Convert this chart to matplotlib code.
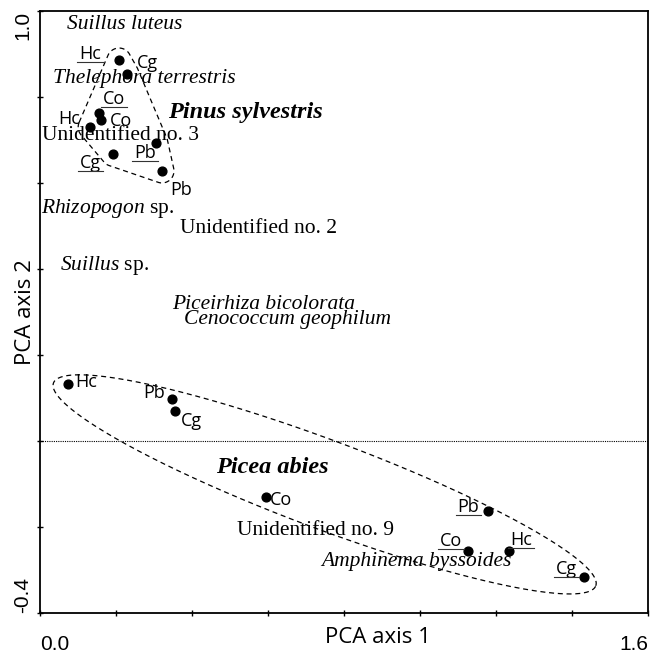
import matplotlib
matplotlib.use('Agg')
import matplotlib.pyplot as plt
import numpy as np
from matplotlib.lines import Line2D

plt.rcParams['mathtext.fontset'] = 'custom'
plt.rcParams['mathtext.it'] = 'Liberation Serif:italic'
plt.rcParams['mathtext.rm'] = 'Liberation Serif'

# sample plots under Pinus sylvestris
pinus_site = ['Hc', 'Cg', 'Co', 'Co', 'Hc', 'Cg', 'Pb', 'Pb']
pinus_x = [0.208, 0.229, 0.155, 0.161, 0.132, 0.192, 0.305, 0.321]
pinus_y = [0.886, 0.853, 0.763, 0.747, 0.730, 0.667, 0.693, 0.628]
pinus_under = [True, False, True, False, False, True, True, False]

# sample plots under Picea abies
picea_site = ['Hc', 'Pb', 'Cg', 'Co', 'Pb', 'Co', 'Hc', 'Cg']
picea_x = [0.074, 0.347, 0.355, 0.595, 1.179, 1.126, 1.234, 1.432]
picea_y = [0.133, 0.098, 0.070, -0.130, -0.163, -0.256, -0.256, -0.316]
picea_under = [False, False, False, False, True, True, True, True]

# fungal species
species = ['Suillus luteus', 'Thelephora terrestris', 'Unidentified no. 3',
           r'$\mathit{Rhizopogon}$ sp.', 'Unidentified no. 2', r'$\mathit{Suillus}$ sp.',
           'Piceirhiza bicolorata', 'Cenococcum geophilum', 'Unidentified no. 9',
           'Amphinema byssoides']
species_x = [0.071, 0.034, 0.005, 0.003, 0.368, 0.053, 0.347, 0.379, 0.518, 0.739]
species_y = [0.958, 0.833, 0.700, 0.530, 0.484, 0.398, 0.307, 0.272, -0.219, -0.291]

hosts = ['Pinus sylvestris', 'Picea abies']
hosts_x = [0.337, 0.463]
hosts_y = [0.751, -0.074]

# label offsets (points) for the site labels
pinus_off = [(-21, 4), (15, 8), (11, 10), (14, -1), (-15, 6), (-16, -6), (-8, -7), (14, -14)]
picea_off = [(13, 1), (-13, 4), (12, -7), (11, -2), (-14, 3), (-12, 7), (9, 8), (-13, 6)]
species_style = ['italic', 'italic', 'normal', 'normal', 'normal', 'normal',
                 'italic', 'italic', 'normal', 'italic']

fig = plt.figure(figsize=(6.6, 6.57), dpi=100)
ax = fig.add_axes([40 / 660, 1 - 613 / 657, 608 / 660, 602 / 657])
ax.set_xlim(0, 1.6)
ax.set_ylim(-0.4, 1.0)

for s in ax.spines.values():
    s.set_linewidth(1.3)

ax.set_xticks(np.arange(0, 1.61, 0.2))
ax.set_yticks(np.arange(-0.4, 1.01, 0.2))
ax.set_xticklabels(['0.0'] + [''] * 7 + ['1.6'], family='Liberation Sans', fontsize=15)
ax.set_yticklabels(['-0.4'] + [''] * 6 + ['1.0'], family='Liberation Sans', fontsize=15,
                   rotation=90)
ax.tick_params(direction='inout', length=5, width=1)
ax.tick_params(axis='x', pad=13)
ax.tick_params(axis='y', pad=3)
xl = ax.get_xticklabels()
xl[0].set_ha('left')
xl[-1].set_ha('right')
yl = ax.get_yticklabels()
yl[0].set_va('bottom')
yl[-1].set_va('top')

ax.set_xlabel('PCA axis 1', family='Open Sans', fontsize=16)
ax.xaxis.set_label_coords(0.556, -0.024)
ax.set_ylabel('PCA axis 2', family='Open Sans', fontsize=16)
ax.yaxis.set_label_coords(-0.006, 0.5)

ax.axhline(0, color='black', lw=0.8, linestyle=(0, (1, 1)))

dash = dict(color='black', lw=0.9, linestyle=(0, (4, 3)))


def to_data(p):
    p = ax.transData.inverted().transform(p)
    return p[:, 0], p[:, 1]


def ellipse_env(xs, ys, pad_major=14, pad_minor=12):
    # enclosing ellipse along the line between the two farthest points (display space)
    pts = ax.transData.transform(np.column_stack([xs, ys]))
    d = np.linalg.norm(pts[:, None, :] - pts[None, :, :], axis=2)
    i, j = np.unravel_index(d.argmax(), d.shape)
    u1 = (pts[j] - pts[i]) / d[i, j]
    u2 = np.array([-u1[1], u1[0]])
    c = pts.mean(axis=0)
    p1 = (pts - c) @ u1
    p2 = (pts - c) @ u2
    c = c + u1 * (p1.max() + p1.min()) / 2 + u2 * (p2.max() + p2.min()) / 2
    a = (p1.max() - p1.min()) / 2 + pad_major
    b = (p2.max() - p2.min()) / 2 + pad_minor
    t = np.linspace(0, 2 * np.pi, 300)
    ell = c + np.outer(a * np.cos(t), u1) + np.outer(b * np.sin(t), u2)
    ax.plot(*to_data(ell), **dash)


def hull_env(xs, ys, pad=12):
    # convex hull of the points, grown by a rounded margin (display space)
    pts = sorted(map(tuple, ax.transData.transform(np.column_stack([xs, ys]))))

    def cross(o, a, b):
        return (a[0] - o[0]) * (b[1] - o[1]) - (a[1] - o[1]) * (b[0] - o[0])

    lower, upper = [], []
    for p in pts:
        while len(lower) >= 2 and cross(lower[-2], lower[-1], p) <= 0:
            lower.pop()
        lower.append(p)
    for p in reversed(pts):
        while len(upper) >= 2 and cross(upper[-2], upper[-1], p) <= 0:
            upper.pop()
        upper.append(p)
    hull = np.array(lower[:-1] + upper[:-1])  # counter-clockwise
    n = len(hull)
    out = []
    for k in range(n):
        prev, cur, nxt = hull[k - 1], hull[k], hull[(k + 1) % n]
        e_in = cur - prev
        e_out = nxt - cur
        a0 = np.arctan2(e_in[1], e_in[0]) - np.pi / 2
        a1 = np.arctan2(e_out[1], e_out[0]) - np.pi / 2
        if a1 < a0:
            a1 += 2 * np.pi
        ang = np.linspace(a0, a1, 30)
        out.append(cur + pad * np.column_stack([np.cos(ang), np.sin(ang)]))
    out = np.vstack(out + [out[0][:1]])
    ax.plot(*to_data(out), **dash)


hull_env(pinus_x, pinus_y)
ellipse_env(picea_x, picea_y)

ax.scatter(pinus_x + picea_x, pinus_y + picea_y, s=40, color='black', zorder=3)

site_texts = []
for names, xs, ys, offs, und in [(pinus_site, pinus_x, pinus_y, pinus_off, pinus_under),
                                  (picea_site, picea_x, picea_y, picea_off, picea_under)]:
    for n, x, y, o, u in zip(names, xs, ys, offs, und):
        t = ax.annotate(n, (x, y), xytext=o, textcoords='offset points', ha='center',
                        va='center', family='Open Sans', fontsize=13)
        if u:
            site_texts.append(t)

for n, x, y, st in zip(species, species_x, species_y, species_style):
    ax.text(x, y, n, family='Liberation Serif', style=st, fontsize=15.5, ha='left',
            va='baseline')

for n, x, y in zip(hosts, hosts_x, hosts_y):
    ax.text(x, y, n, family='Liberation Serif', style='italic', weight='bold',
            fontsize=17.5, ha='left', va='baseline')

# underline the marked site labels
fig.canvas.draw()
r = fig.canvas.get_renderer()
inv = fig.transFigure.inverted()
for t in site_texts:
    bb = t.get_window_extent(r)
    (x0, y0), (x1, _) = inv.transform([(bb.x0 - 2, bb.y0 + 1), (bb.x1 + 2, bb.y0 + 1)])
    fig.add_artist(Line2D([x0, x1], [y0, y0], transform=fig.transFigure,
                          color='#333333', lw=0.8))

fig.savefig('out.png', dpi=100)
